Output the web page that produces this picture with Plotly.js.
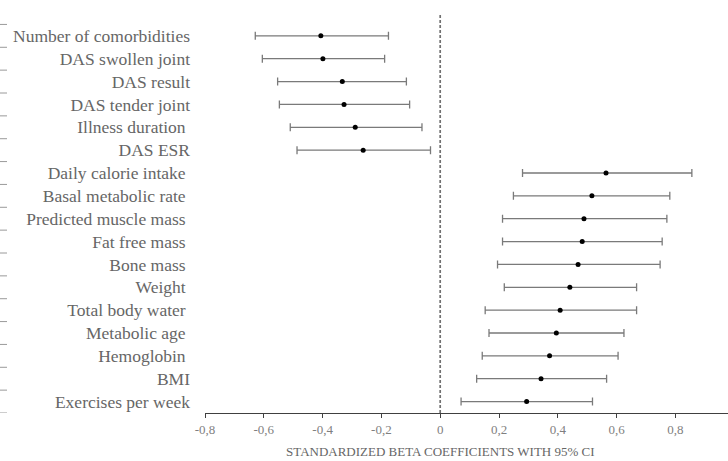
<!DOCTYPE html>
<html>
<head>
<meta charset="utf-8">
<script src="https://cdn.plot.ly/plotly-3.0.1.min.js"></script>
<style>html,body{margin:0;padding:0;background:#fff;}#chart{width:728px;height:461px;}</style>
</head>
<body>
<div id="chart"></div>
<script>
const categories = [
  "Number of comorbidities", "DAS swollen joint", "DAS result", "DAS tender joint",
  "Illness duration ", "DAS ESR", "Daily calorie intake ", "Basal metabolic rate ",
  "Predicted muscle mass ", "Fat free mass ", "Bone mass ", "Weight ",
  "Total body water ", "Metabolic age ", "Hemoglobin ", "BMI", "Exercises per week"
];
const beta = [-0.406, -0.399, -0.333, -0.327, -0.289, -0.262, 0.564, 0.516, 0.489, 0.483, 0.469, 0.441, 0.408, 0.395, 0.372, 0.343, 0.294];
const ciLow = [-0.629, -0.605, -0.553, -0.547, -0.510, -0.487, 0.280, 0.249, 0.212, 0.212, 0.195, 0.218, 0.153, 0.166, 0.143, 0.124, 0.071];
const ciHigh = [-0.176, -0.189, -0.115, -0.104, -0.062, -0.033, 0.856, 0.781, 0.771, 0.755, 0.748, 0.668, 0.668, 0.625, 0.605, 0.566, 0.518];
const xTickVals = [-0.8, -0.6, -0.4, -0.2, 0, 0.2, 0.4, 0.6, 0.8, 1.0];
const xTickText = ["-0,8", "-0,6", "-0,4", "-0,2", "0", "0,2", "0,4", "0,6", "0,8", "1"];
const xTitle = "STANDARDIZED BETA COEFFICIENTS WITH 95% CI";

const rows = categories.map((_, i) => i);
const trace = {
  type: "scatter", mode: "markers",
  x: beta, y: rows,
  marker: {color: "#000000", size: 5},
  error_x: {
    type: "data", symmetric: false,
    array: ciHigh.map((h, i) => h - beta[i]),
    arrayminus: beta.map((b, i) => b - ciLow[i]),
    color: "#7a7a7a", thickness: 1.3, width: 4
  },
  hoverinfo: "skip", showlegend: false
};

const L = 205, W = 728 - L;
const shapes = [{
  type: "line", xref: "x", yref: "paper", x0: 0, x1: 0, y0: 0, y1: 1,
  line: {color: "#707070", width: 1.7, dash: "3px,2px"}
}];
for (let i = -1; i < categories.length; i++) {
  shapes.push({
    type: "line", xref: "paper", yref: "y",
    x0: -L / W, x1: (7 - L) / W, y0: i + 0.5, y1: i + 0.5,
    line: {color: "#9a9a9a", width: 1}
  });
}

const layout = {
  width: 728, height: 461,
  margin: {l: L, r: 0, t: 13, b: 48, pad: 0},
  paper_bgcolor: "#fff", plot_bgcolor: "#fff",
  showlegend: false,
  xaxis: {
    range: [-0.8, -0.8 + W / 294],
    tickvals: xTickVals, ticktext: xTickText,
    ticks: "outside", ticklen: 4, tickcolor: "#404040", tickwidth: 1,
    showline: true, linecolor: "#404040", linewidth: 1,
    showgrid: false, zeroline: false,
    tickfont: {family: "Liberation Serif", size: 13, color: "#7f7f7f"},
    fixedrange: true
  },
  yaxis: {
    range: [16.5, -1.0],
    tickvals: rows, ticktext: categories,
    ticks: "", showline: false, showgrid: false, zeroline: false,
    ticklabelstandoff: 14,
    tickfont: {family: "Liberation Serif", size: 17.5, color: "#666666"},
    fixedrange: true
  },
  annotations: [{
    text: xTitle, xref: "x", yref: "paper", x: 0, y: -0.097,
    xanchor: "center", yanchor: "middle", showarrow: false,
    font: {family: "Liberation Serif", size: 13, color: "#666666"}
  }],
  shapes: shapes
};

Plotly.newPlot("chart", [trace], layout, {displayModeBar: false, staticPlot: true});
</script>
</body>
</html>
